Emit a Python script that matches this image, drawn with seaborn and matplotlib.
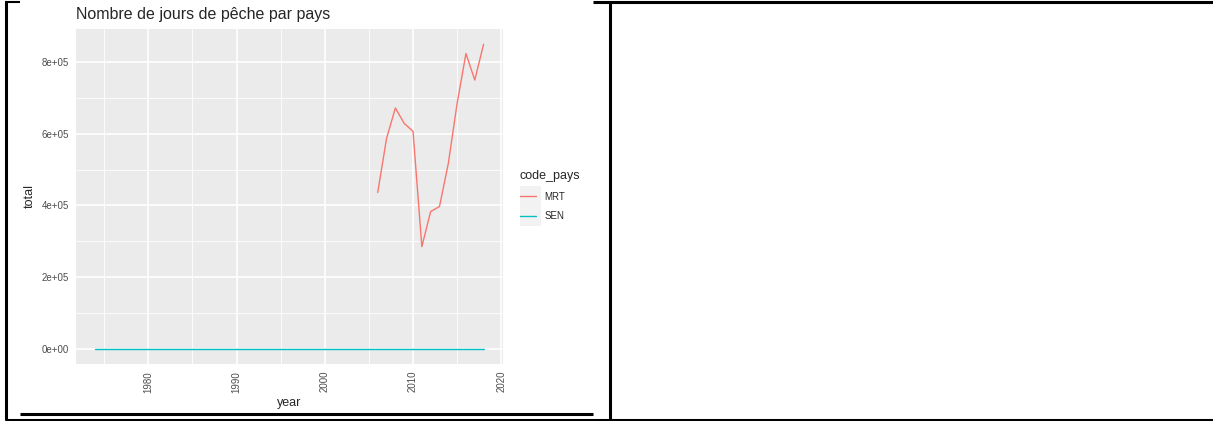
import pandas as pd
import matplotlib.pyplot as plt
import seaborn as sns
from matplotlib.lines import Line2D
from matplotlib.patches import Rectangle
from matplotlib.ticker import FuncFormatter, MultipleLocator


# ==========================================
# DATA
# ==========================================
mrt_years = [2006, 2007, 2008, 2009, 2010, 2011, 2012,
             2013, 2014, 2015, 2016, 2017, 2018]
mrt_total = [436000, 587000, 672000, 629000, 607000, 285000, 383000,
             397000, 517000, 685000, 824000, 750000, 850000]

sen_years = list(range(1974, 2019))
sen_total = [0, 0, 0, 0, 0, 0, 0, 0, 0, 0,
             0, 0, 0, 0, 0, 0, 0, 0, 0, 0,
             0, 0, 0, 0, 0, 0, 0, 0, 0, 0,
             0, 0, 0, 0, 0, 0, 0, 0, 0, 0,
             0, 0, 0, 0, 0]

countries = ["MRT", "SEN"]
colors = ["#F8766D", "#00BFC4"]

x_ticks = [1980, 1990, 2000, 2010, 2020]
y_ticks = [0, 200000, 400000, 600000, 800000]

df = pd.concat([
    pd.DataFrame({"year": mrt_years, "total": mrt_total, "code_pays": "MRT"}),
    pd.DataFrame({"year": sen_years, "total": sen_total, "code_pays": "SEN"}),
])


# ==========================================
# STYLE
# ==========================================
sns.set_theme(style="darkgrid", rc={
    "axes.facecolor": "#EBEBEB",
    "grid.color": "white",
    "axes.edgecolor": "none",
})
plt.rcParams["font.family"] = ["Liberation Sans", "DejaVu Sans"]

W, H = 1213, 421
fig = plt.figure(figsize=(W / 100, H / 100), dpi=100)
fig.patch.set_facecolor("white")


def fx(px):
    return px / W


def fy(py):
    return 1 - py / H


ax = fig.add_axes([fx(76), fy(364), fx(503) - fx(76), fy(29) - fy(364)])

sns.lineplot(
    data=df,
    x="year",
    y="total",
    hue="code_pays",
    hue_order=countries,
    palette=colors,
    linewidth=1.0,
    ax=ax
)

# ggplot-like expansion (5%)
xmin, xmax = min(sen_years + mrt_years), max(sen_years + mrt_years)
ymin, ymax = min(sen_total + mrt_total), max(sen_total + mrt_total)
dx = (xmax - xmin) * 0.05
dy = (ymax - ymin) * 0.05
ax.set_xlim(xmin - dx, xmax + dx)
ax.set_ylim(ymin - dy, ymax + dy)

ax.set_xticks(x_ticks)
ax.set_yticks(y_ticks)
ax.xaxis.set_minor_locator(MultipleLocator(5))
ax.yaxis.set_minor_locator(MultipleLocator(100000))
ax.yaxis.set_major_formatter(FuncFormatter(lambda v, p: f"{v:.0e}"))

ax.grid(which="major", color="white", linewidth=1.2)
ax.grid(which="minor", color="white", linewidth=0.6)

ax.tick_params(axis="both", which="major", length=3, width=0.8,
               color="#333333", labelsize=7, labelcolor="#4D4D4D", pad=2)
ax.tick_params(axis="both", which="minor", length=0)
plt.setp(ax.get_xticklabels(), rotation=90)

for s in ax.spines.values():
    s.set_visible(False)

ax.set_xlabel("year", fontsize=9, labelpad=3)
ax.set_ylabel("total", fontsize=9, labelpad=4)
ax.set_title("Nombre de jours de pêche par pays", loc="left",
             fontsize=11.5, pad=7)

# legend
sns.move_legend(
    ax, "upper left",
    bbox_to_anchor=(fx(516), fy(166)),
    bbox_transform=fig.transFigure,
    frameon=False,
    title="code_pays",
    fontsize=7,
    title_fontsize=9,
    handlelength=1.7,
    handletextpad=0.8,
    labelspacing=1.0,
    borderaxespad=0,
)
ax.get_legend()._legend_box.align = "left"
fig.add_artist(Rectangle((fx(520), fy(226)), fx(541) - fx(520), fy(186) - fy(226),
                         transform=fig.transFigure, facecolor="#F2F2F2",
                         edgecolor="none", zorder=0))

# ==========================================
# TABLE BORDERS
# ==========================================
borders = [
    ((6, 6), (2, 420), 2.2),
    ((610, 610), (2, 420), 2.2),
    ((5, 1213), (420, 420), 2.2),
    ((5, 20), (1.5, 1.5), 1.5),
    ((593, 1213), (2, 2), 2.2),
    ((20, 593), (414, 414), 2.2),
]
for xs, ys, lw in borders:
    fig.add_artist(Line2D([fx(x) for x in xs], [fy(y) for y in ys],
                          transform=fig.transFigure, color="black",
                          linewidth=lw, solid_capstyle="butt"))

plt.savefig("out.png", dpi=100, facecolor="white")
